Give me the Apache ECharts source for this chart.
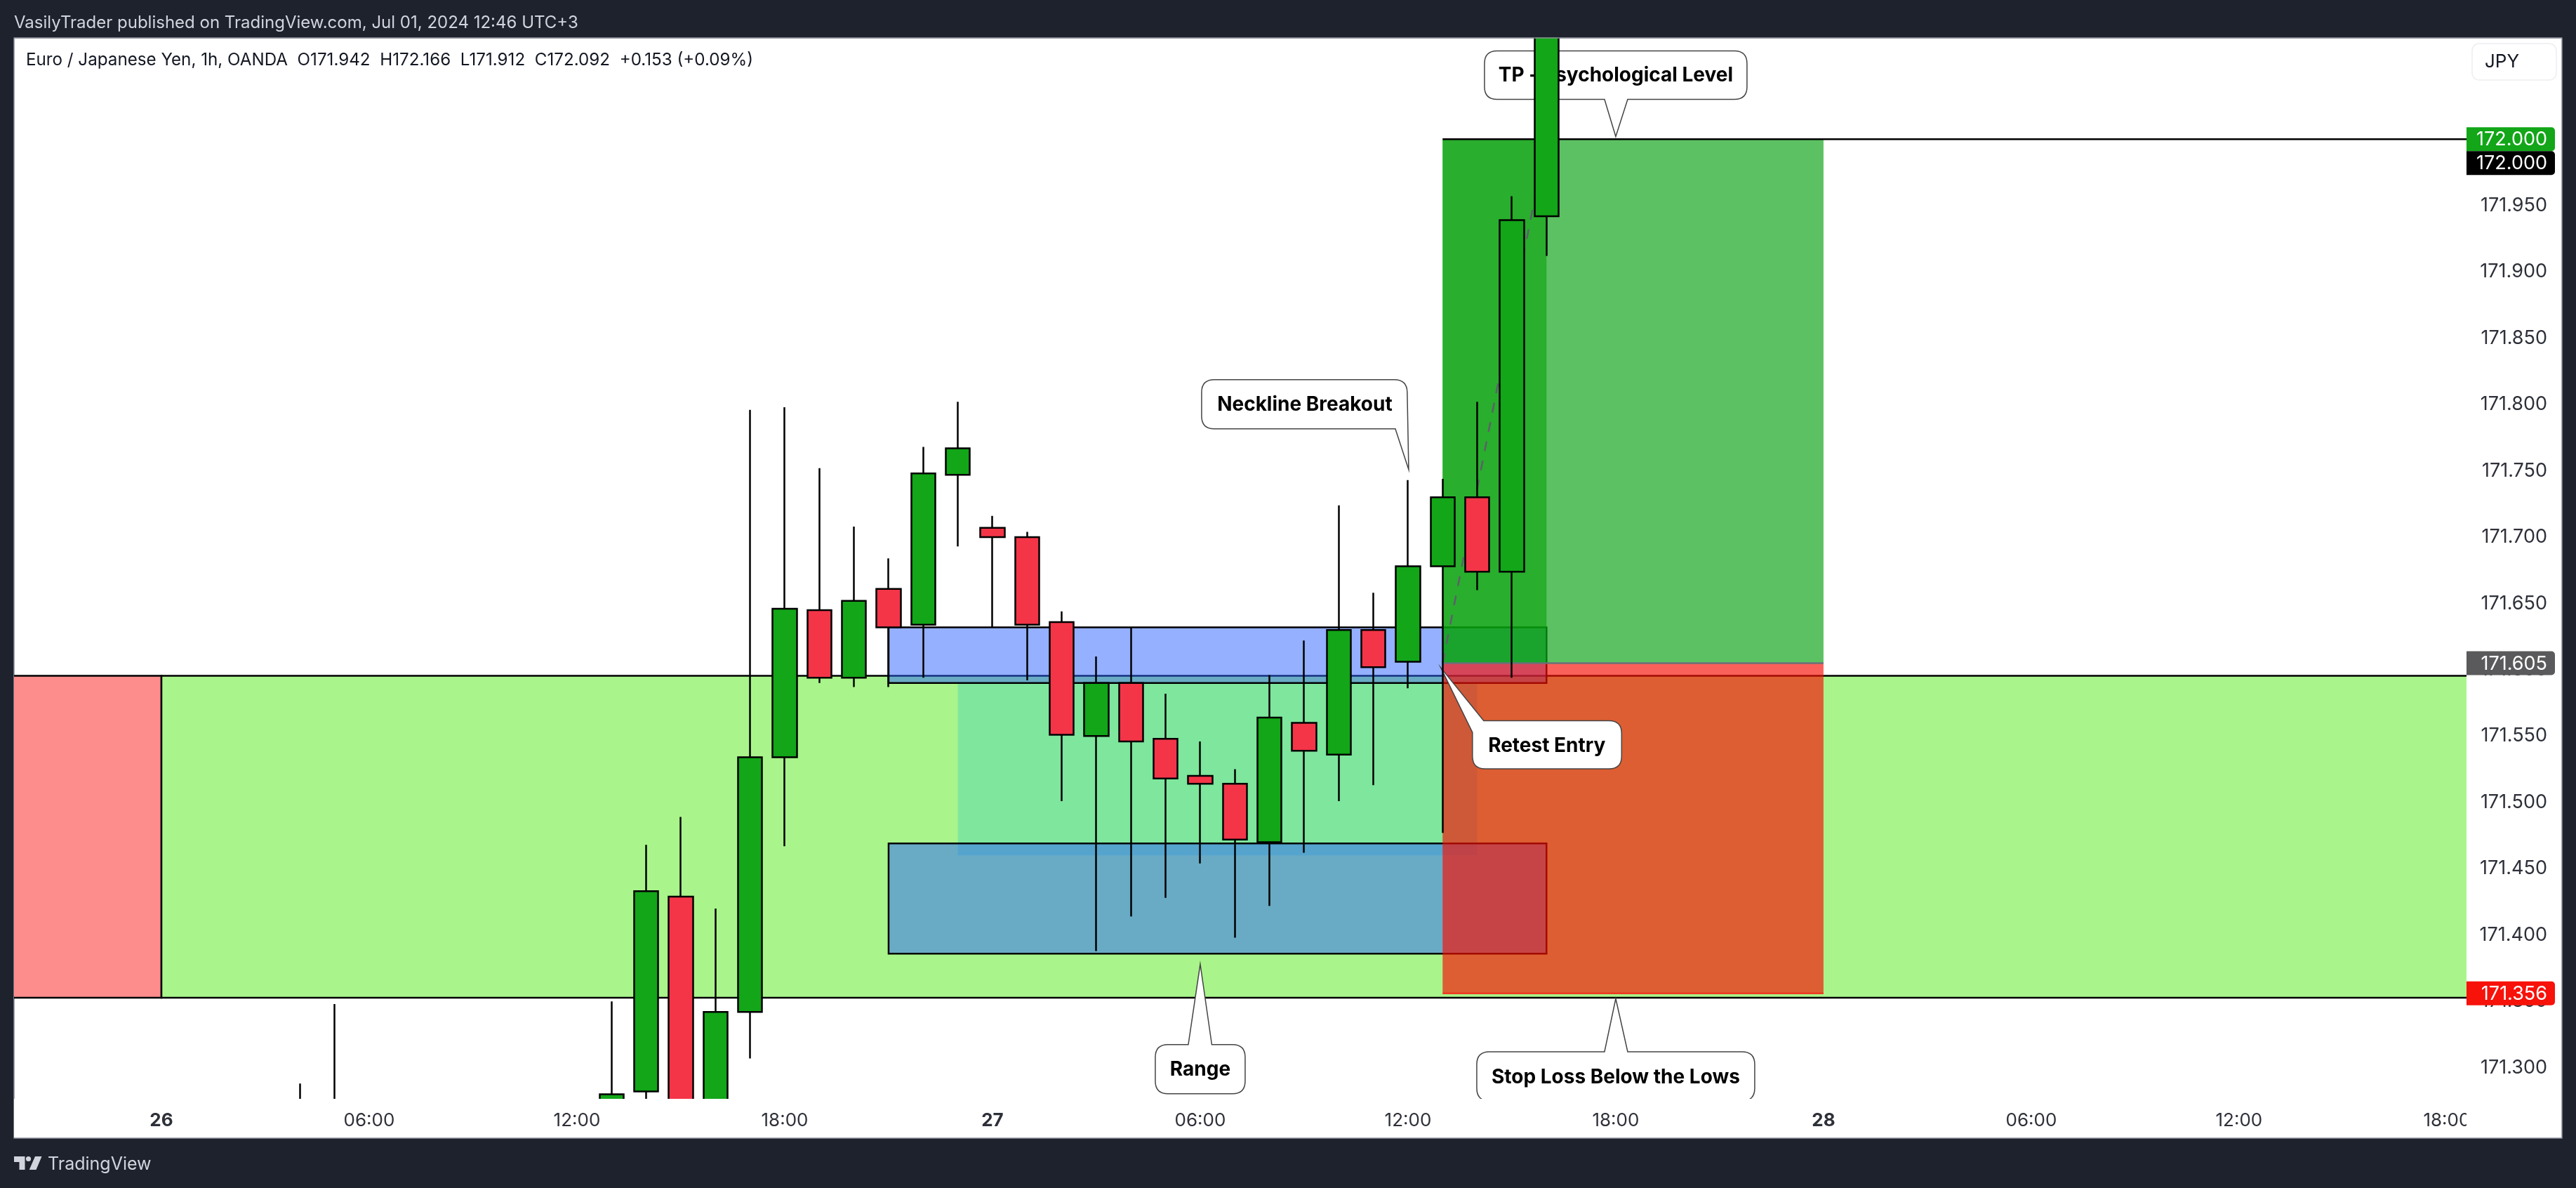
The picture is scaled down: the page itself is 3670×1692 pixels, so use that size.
<!DOCTYPE html>
<html>
<head>
<meta charset="utf-8">
<title>EUR/JPY 1h</title>
<style>
  html, body { margin: 0; padding: 0; background: #1e222d; }
  #container { width: 3670px; height: 1692px; }
</style>
<script src="https://cdn.jsdelivr.net/npm/echarts@6/dist/echarts.min.js"></script>
</head>
<body>
<div id="container"></div>
<script>
// candles, x is hours counted from the "26" day tick
var candleHours = [4, 5, 13, 14, 15, 16, 17, 18, 19, 20, 21, 22, 23, 24, 25, 26, 27, 28, 29, 30, 31, 32, 33, 34, 35, 36, 37, 38, 39, 40];
var candleOpen = [171.26, 171.252, 171.252, 171.282, 171.429, 171.26, 171.342, 171.534, 171.645, 171.594, 171.661, 171.634, 171.747, 171.707, 171.7, 171.636, 171.55, 171.59, 171.548, 171.52, 171.514, 171.47, 171.56, 171.536, 171.63, 171.606, 171.678, 171.73, 171.674, 171.942];
var candleClose = [171.27, 171.265, 171.28, 171.433, 171.26, 171.342, 171.534, 171.646, 171.594, 171.652, 171.632, 171.748, 171.767, 171.7, 171.634, 171.551, 171.59, 171.546, 171.518, 171.514, 171.472, 171.564, 171.539, 171.63, 171.602, 171.678, 171.73, 171.674, 171.939, 172.092];
var candleLow = [171.25, 171.25, 171.25, 171.25, 171.25, 171.25, 171.307, 171.467, 171.59, 171.587, 171.587, 171.594, 171.693, 171.632, 171.592, 171.501, 171.388, 171.414, 171.428, 171.454, 171.398, 171.422, 171.462, 171.501, 171.513, 171.586, 171.477, 171.66, 171.594, 171.912];
var candleHigh = [171.288, 171.348, 171.35, 171.468, 171.489, 171.42, 171.796, 171.798, 171.752, 171.708, 171.684, 171.768, 171.802, 171.716, 171.704, 171.644, 171.61, 171.632, 171.582, 171.546, 171.525, 171.596, 171.622, 171.724, 171.658, 171.743, 171.744, 171.802, 171.957, 172.166];

var priceTicks = [171.3, 171.35, 171.4, 171.45, 171.5, 171.55, 171.6, 171.65, 171.7, 171.75, 171.8, 171.85, 171.9, 171.95, 172];
var timeTicks = [0, 6, 12, 18, 24, 30, 36, 42, 48, 54, 60, 66];
var timeLabels = ['26', '06:00', '12:00', '18:00', '27', '06:00', '12:00', '18:00', '28', '06:00', '12:00', '18:00'];

// boxes: hour from, hour to, price top, price bottom
var zoneSupply = [-8, 0, 171.5954, 171.3527];
var zoneRange = [0, 72, 171.5954, 171.3527];
var zoneTeal = [23, 38, 171.59, 171.46];
var zoneNeck = [21, 40, 171.632, 171.59];
var zoneLows = [21, 40, 171.469, 171.386];
var zoneProfit = [37, 48, 172, 171.605];
var zoneProfitExtra = [37, 40, 172, 171.605];
var zoneStop = [37, 48, 171.605, 171.356];

// levels: hour from, hour to, price
var levelTarget = [37, 72, 172];
var levelEntry = [37, 48, 171.605];
var levelStop = [37, 48, 171.356];
var pathHours = [37, 40];
var pathPrices = [171.605, 172];

var calloutLabels = ['TP - Psychological Level', 'Neckline Breakout', 'Retest Entry', 'Range', 'Stop Loss Below the Lows'];
var calloutHours = [42, 36.02, 36.95, 30, 42];
var calloutPrices = [172.002, 171.751, 171.6015, 171.378, 171.352];

var markerPrices = [172, 172, 171.605, 171.356];
var markerTexts = ['172.000', '172.000', '171.605', '171.356'];

// ---- layout / styles below ----
var GRID = { left: 20, top: 54, width: 3494, height: 1511 };
var X_MIN = -4.257, X_MAX = 66.57, Y_MIN = 171.2765, Y_MAX = 172.0764;
var FONT = 'Inter';
var TEXT_DARK = '#2e3039';
var PANEL_DARK = '#1e222d';

var BLUE = 'rgba(41,98,255,0.5)';
var PROFIT = 'rgba(8,161,18,0.66)';
var LOSS = 'rgba(247,15,5,0.66)';
var zoneRows = [zoneSupply, zoneRange, zoneTeal, zoneNeck, zoneLows, zoneProfit, zoneProfitExtra, zoneStop];
var zoneStyles = [
  { fill: '#fd8c8c', stroke: '#000', lineWidth: 2.5 },
  { fill: '#a9f58b', stroke: '#000', lineWidth: 2.5 },
  { fill: 'rgba(0,188,212,0.25)' },
  { fill: BLUE, stroke: '#000', lineWidth: 2.5 },
  { fill: BLUE, stroke: '#000', lineWidth: 2.5 },
  { fill: PROFIT },
  { fill: 'rgba(7,161,10,0.6)' },
  { fill: LOSS }
];

// outline of each bubble, relative to the tip of its tail: [dx, dy, corner radius]
var calloutOutlines = [
  [[-187, -122, 18], [187, -122, 18], [187, -53, 18], [17, -53, 0], [0, 0, 0], [-16, -53, 0], [-187, -53, 18]],
  [[-295, -128, 18], [-2.4, -128, 18], [0, 0, 0], [-19, -58, 0], [-295, -58, 18]],
  [[61, 75.5, 0], [257.5, 75.5, 18], [257.5, 144, 18], [45, 144, 18], [45, 92, 0], [0, 0, 0]],
  [[-64, 114.5, 18], [-17, 114.5, 0], [0, 0, 0], [16.5, 114.5, 0], [64, 114.5, 18], [64, 184.5, 18], [-64, 184.5, 18]],
  [[-198, 75.6, 18], [-16, 75.6, 0], [0, 0, 0], [17, 75.6, 0], [198, 75.6, 18], [198, 145.6, 18], [-198, 145.6, 18]]
];
var calloutTextPos = [[0, -87], [-148, -92], [151, 111], [0, 150.5], [0, 112]];

var markerColors = ['#12a618', '#000000', '#5a5a5c', '#f7120a'];
var markerShift = [0, 34, 0, 0];

function outlinePath(points, ox, oy) {
  var n = points.length, d = '';
  for (var i = 0; i < n; i++) {
    var p = points[i], prev = points[(i + n - 1) % n], next = points[(i + 1) % n];
    var x = ox + p[0], y = oy + p[1], r = p[2];
    if (!r) {
      d += (i === 0 ? 'M' : 'L') + x + ' ' + y + ' ';
      continue;
    }
    var l0 = Math.hypot(prev[0] - p[0], prev[1] - p[1]);
    var l1 = Math.hypot(next[0] - p[0], next[1] - p[1]);
    var ax = x + (prev[0] - p[0]) * r / l0, ay = y + (prev[1] - p[1]) * r / l0;
    var bx = x + (next[0] - p[0]) * r / l1, by = y + (next[1] - p[1]) * r / l1;
    d += (i === 0 ? 'M' : 'L') + ax + ' ' + ay + ' Q' + x + ' ' + y + ' ' + bx + ' ' + by + ' ';
  }
  return d + 'Z';
}

function renderZone(params, api) {
  var p0 = api.coord([api.value(0), api.value(2)]);
  var p1 = api.coord([api.value(1), api.value(3)]);
  return {
    type: 'rect',
    shape: { x: p0[0], y: p0[1], width: p1[0] - p0[0], height: p1[1] - p0[1] },
    style: zoneStyles[params.dataIndex]
  };
}

function renderCallout(params, api) {
  var i = params.dataIndex;
  var tip = api.coord([api.value(0), api.value(1)]);
  return {
    type: 'group',
    children: [{
      type: 'path',
      shape: { pathData: outlinePath(calloutOutlines[i], tip[0], tip[1]) },
      style: { fill: '#fff', stroke: '#444', lineWidth: 1.5 }
    }, {
      type: 'text',
      style: {
        text: calloutLabels[i],
        x: tip[0] + calloutTextPos[i][0],
        y: tip[1] + calloutTextPos[i][1],
        fill: '#000',
        font: '700 28px ' + FONT,
        align: 'center',
        verticalAlign: 'middle'
      }
    }]
  };
}

function renderMarker(params, api) {
  var i = params.dataIndex;
  var p = api.coord([api.value(0), api.value(1)]);
  var cy = p[1] + markerShift[i];
  return {
    type: 'group',
    children: [{
      type: 'rect',
      shape: { x: p[0], y: cy - 17, width: 126, height: 34, r: [0, 5, 5, 0] },
      style: { fill: markerColors[i] }
    }, {
      type: 'text',
      style: {
        text: markerTexts[i],
        x: p[0] + 115,
        y: cy + 1,
        fill: '#fff',
        font: '27px ' + FONT,
        align: 'right',
        verticalAlign: 'middle'
      }
    }]
  };
}

function levelSeries(level, color, dashed) {
  return {
    type: 'line',
    z: 2,
    clip: true,
    silent: true,
    symbol: 'none',
    lineStyle: { color: color, width: 2.5, type: dashed ? [14, 14] : 'solid' },
    data: level
  };
}

var candleRows = candleHours.map(function (h, i) {
  return [h, candleOpen[i], candleClose[i], candleLow[i], candleHigh[i]];
});

var option = {
  backgroundColor: PANEL_DARK,
  animation: false,
  grid: { left: GRID.left, top: GRID.top, width: GRID.width, height: GRID.height, show: false },
  xAxis: {
    type: 'value',
    z: 200,
    min: X_MIN,
    max: X_MAX,
    axisLine: { show: false },
    axisTick: { show: false },
    splitLine: { show: false },
    axisLabel: {
      customValues: timeTicks,
      margin: 31,
      verticalAlign: 'middle',
      color: TEXT_DARK,
      fontFamily: FONT,
      fontSize: 26,
      formatter: function (v) {
        var label = timeLabels[timeTicks.indexOf(v)];
        return label.length === 2 ? '{day|' + label + '}' : label;
      },
      rich: { day: { fontFamily: FONT, fontSize: 26, fontWeight: 700, color: TEXT_DARK } }
    }
  },
  yAxis: {
    type: 'value',
    position: 'right',
    min: Y_MIN,
    max: Y_MAX,
    axisLine: { show: false },
    axisTick: { show: false },
    splitLine: { show: false },
    axisLabel: {
      customValues: priceTicks,
      margin: 115,
      align: 'right',
      padding: [2, 0, 0, 0],
      color: TEXT_DARK,
      fontFamily: FONT,
      fontSize: 27,
      formatter: function (v) { return v.toFixed(3); }
    }
  },
  series: [
    {
      type: 'custom',
      z: 1,
      clip: true,
      silent: true,
      renderItem: renderZone,
      encode: { x: [0, 1], y: [2, 3] },
      data: zoneRows
    },
    levelSeries(pathHours.map(function (h, i) { return [h, pathPrices[i]]; }), '#5d606b', true),
    levelSeries([[levelTarget[0], levelTarget[2]], [levelTarget[1], levelTarget[2]]], '#000', false),
    levelSeries([[levelEntry[0], levelEntry[2]], [levelEntry[1], levelEntry[2]]], '#6b6f78', false),
    levelSeries([[levelStop[0], levelStop[2]], [levelStop[1], levelStop[2]]], '#ee3a22', false),
    {
      type: 'custom',
      z: 3,
      clip: true,
      silent: true,
      renderItem: renderCallout,
      encode: { x: 0, y: 1 },
      data: calloutHours.map(function (h, i) { return [h, calloutPrices[i]]; })
    },
    {
      type: 'candlestick',
      z: 4,
      silent: true,
      barWidth: 35,
      itemStyle: {
        color: '#12a618',
        color0: '#f43548',
        borderColor: '#000',
        borderColor0: '#000',
        borderWidth: 2.5
      },
      data: candleRows
    },
    {
      type: 'custom',
      z: 10,
      clip: false,
      silent: true,
      renderItem: renderMarker,
      encode: { x: 0, y: 1 },
      data: markerPrices.map(function (p) { return [X_MAX, p]; })
    }
  ],
  graphic: [
    // white panel behind the chart
    { type: 'rect', z: -10, shape: { x: 20, y: 54, width: 3630, height: 1567 },
      style: { fill: '#fff', stroke: '#8d9099', lineWidth: 1.5 } },
    // candlestick series does not cut a candle at the plot edge, so cover what sticks out
    { type: 'rect', z: 100, shape: { x: 0, y: 0, width: 3670, height: 53.5 }, style: { fill: PANEL_DARK } },
    { type: 'rect', z: 100, shape: { x: 20, y: 1565, width: 3494, height: 55 }, style: { fill: '#fff' } },
    { type: 'line', z: 101, shape: { x1: 20, y1: 54, x2: 3650, y2: 54 }, style: { stroke: '#8d9099', lineWidth: 1.5 } },
    // hides the part of the last time label that runs under the price scale
    { type: 'rect', z: 300, shape: { x: 3514, y: 1567, width: 135, height: 52 }, style: { fill: '#fff' } },
    { type: 'text', z: 101, style: { text: 'VasilyTrader published on TradingView.com, Jul 01, 2024 12:46 UTC+3',
      x: 20, y: 33, fill: '#d1d4dc', font: '24px ' + FONT, verticalAlign: 'middle' } },
    { type: 'text', z: 101, style: { text: 'Euro / Japanese Yen, 1h, OANDA  O171.942  H172.166  L171.912  C172.092  +0.153 (+0.09%)',
      x: 37, y: 86, fill: '#131722', font: '24.2px ' + FONT, verticalAlign: 'middle' } },
    { type: 'rect', z: 101, shape: { x: 3522, y: 62, width: 120, height: 52, r: 10 },
      style: { fill: '#fff', stroke: '#eeeef3', lineWidth: 1.5 } },
    { type: 'text', z: 102, style: { text: 'JPY', x: 3540, y: 88, fill: '#131722', font: '26px ' + FONT, verticalAlign: 'middle' } },
    // TradingView logo
    { type: 'polygon', z: 101, shape: { points: [[20, 1647], [35.5, 1647], [35.5, 1666], [27.5, 1666], [27.5, 1655], [20, 1655]] }, style: { fill: '#d1d4dc' } },
    { type: 'circle', z: 101, shape: { cx: 40.5, cy: 1650.5, r: 3.6 }, style: { fill: '#d1d4dc' } },
    { type: 'polygon', z: 101, shape: { points: [[50, 1647], [59.5, 1647], [51.5, 1666], [41.7, 1666]] }, style: { fill: '#d1d4dc' } },
    { type: 'text', z: 101, style: { text: 'TradingView', x: 68, y: 1658, fill: '#d1d4dc', font: '25px ' + FONT, verticalAlign: 'middle' } }
  ]
};

var myChart = echarts.init(document.getElementById('container'));
myChart.setOption(option);
</script>
</body>
</html>
